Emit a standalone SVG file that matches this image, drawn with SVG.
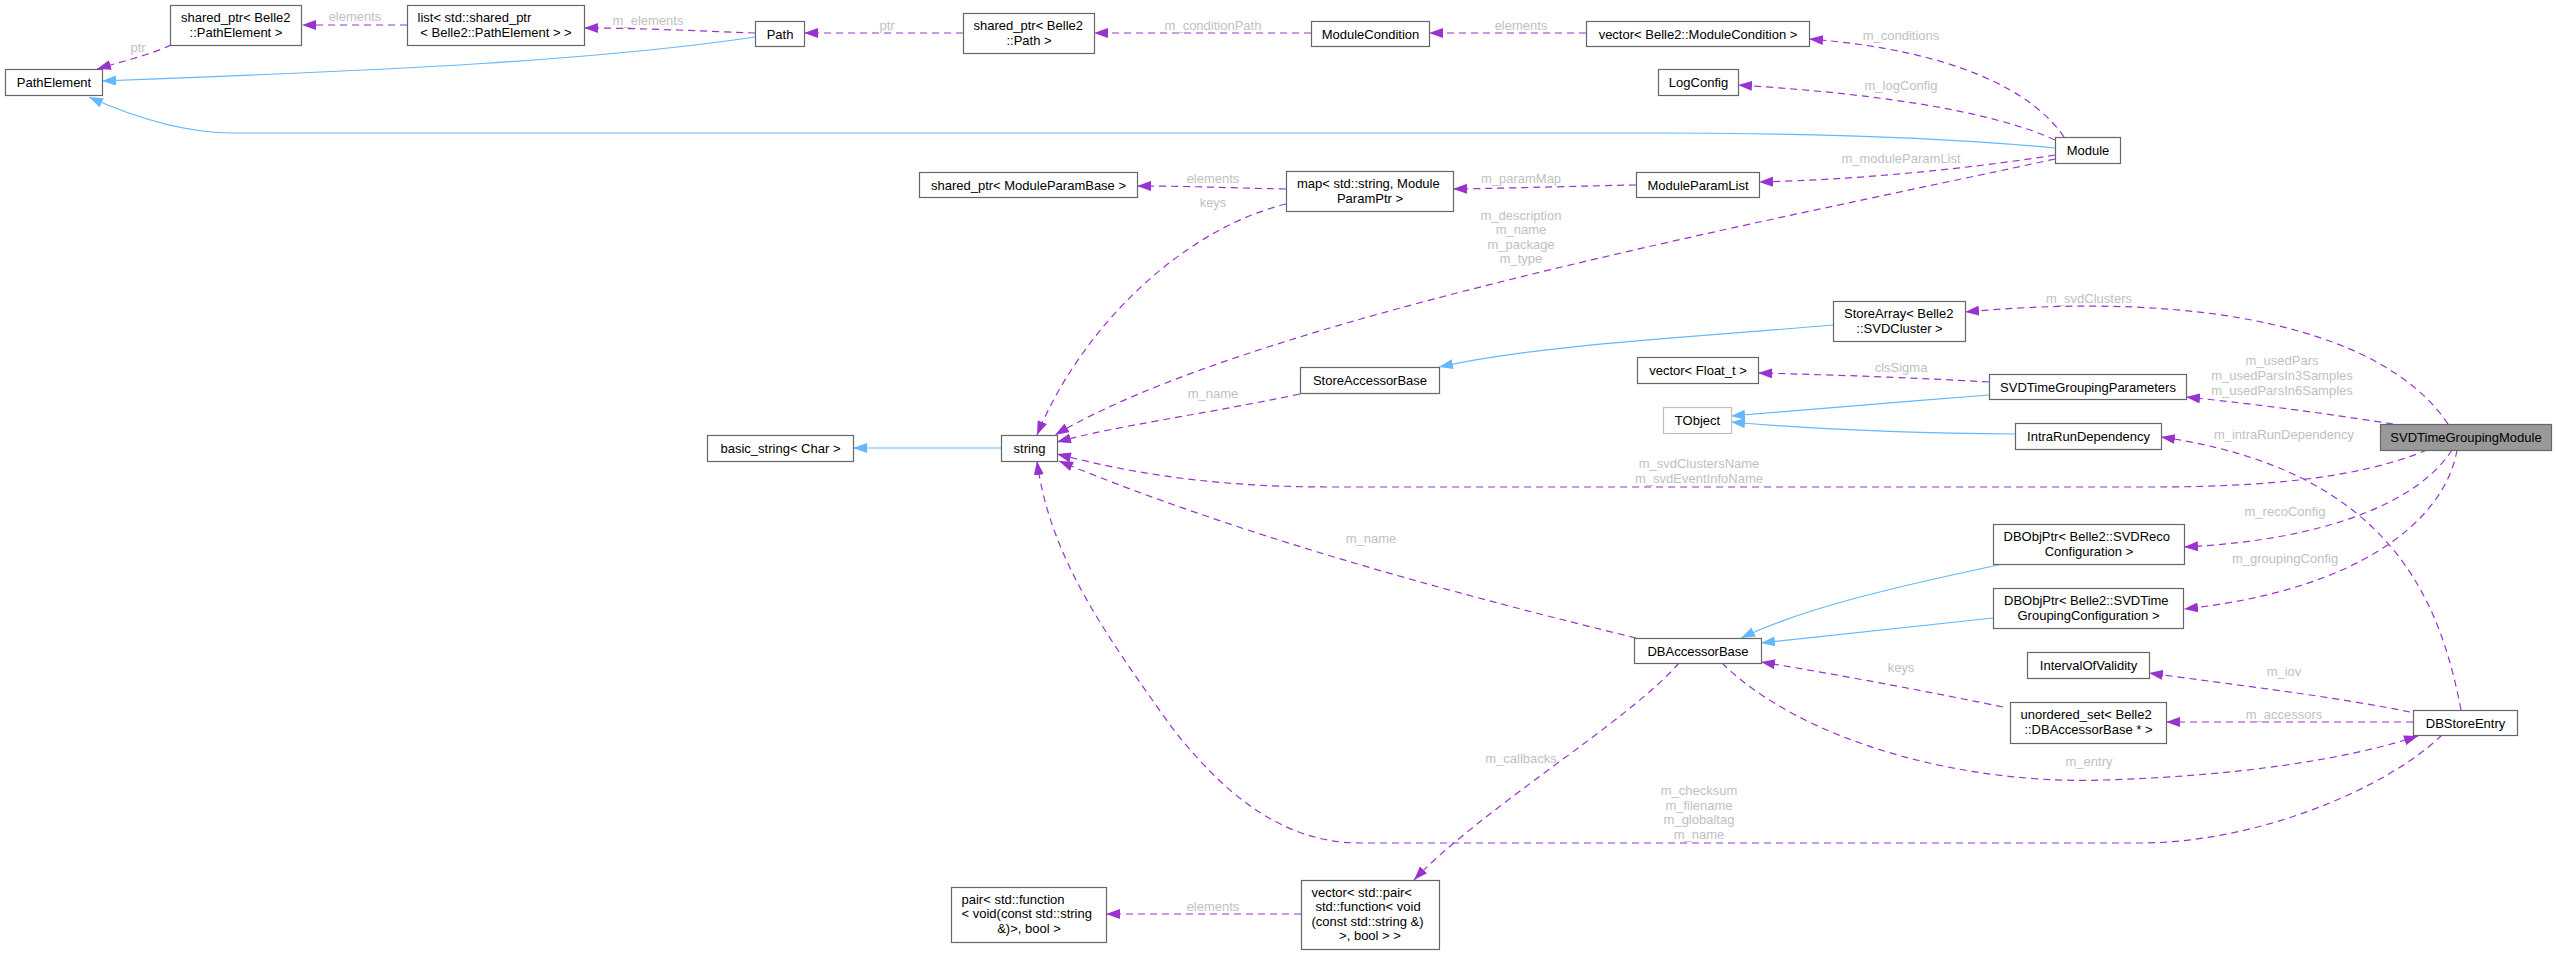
<svg xmlns="http://www.w3.org/2000/svg" width="2556" height="955" viewBox="0 0 2556 955">
<style>
.n rect{fill:#fff;stroke:#666;stroke-width:1.2}
.n text{font-family:"Liberation Sans",Arial,sans-serif;font-size:13px;fill:#000}
.c{text-anchor:middle}
.u{fill:none;stroke:#9a32cd;stroke-width:1.2;stroke-dasharray:7,5;marker-end:url(#ap)}
.i{fill:none;stroke:#63b8ff;stroke-width:1.2;marker-end:url(#ab)}
.l{font-family:"Liberation Sans",Arial,sans-serif;font-size:13px;fill:#bfbfbf;text-anchor:middle}
</style>
<defs>
<marker id="ap" markerUnits="userSpaceOnUse" markerWidth="14" markerHeight="10" viewBox="0 0 14 10" refX="14" refY="5" orient="auto"><path d="M0,0 L14,5 L0,10 z" fill="#9a32cd"/></marker>
<marker id="ab" markerUnits="userSpaceOnUse" markerWidth="14" markerHeight="10" viewBox="0 0 14 10" refX="14" refY="5" orient="auto"><path d="M0,0 L14,5 L0,10 z" fill="#63b8ff"/></marker>
</defs>
<rect width="2556" height="955" fill="#fff"/>
<g id="connectors">
<path class="u" d="M171,45 C150,55 120,62 97,69"/>
<path class="u" d="M407,25 L302,25"/>
<path class="u" d="M755,33 C700,31 640,28 584,28"/>
<path class="i" d="M755,37 C600,60 400,70 102,81"/>
<path class="u" d="M963,33 L804,33"/>
<path class="u" d="M1311,33 L1094,33"/>
<path class="u" d="M1586,33 L1429,33"/>
<path class="u" d="M2064,137 C2032,90 1952,50 1809,39"/>
<path class="u" d="M2055,140 C2000,115 1900,95 1738,85"/>
<path class="i" d="M2055,148 C1950,138 1800,133 1650,133 L233,133 C190,133 140,120 89,97"/>
<path class="u" d="M1636,185 C1580,186 1520,188 1453,189"/>
<path class="u" d="M2055,155 C1960,170 1850,180 1759,182"/>
<path class="u" d="M1286,189 C1230,188 1190,186 1137,186"/>
<path class="u" d="M1286,204 C1180,230 1080,330 1037,435"/>
<path class="u" d="M2055,159 C1750,225 1250,320 1055,435"/>
<path class="u" d="M1300,394 C1200,415 1120,425 1057,442"/>
<path class="i" d="M1833,325 C1680,338 1540,345 1439,367"/>
<path class="u" d="M2448,424 C2385,330 2205,290 1965,312"/>
<path class="u" d="M1989,382 C1920,378 1840,375 1758,373"/>
<path class="i" d="M1989,395 C1900,402 1800,410 1731,416"/>
<path class="i" d="M2015,434 C1900,433 1800,428 1731,422"/>
<path class="u" d="M2393,424 C2335,415 2265,405 2186,397"/>
<path class="u" d="M2461,710 C2440,600 2390,470 2161,437"/>
<path class="u" d="M2427,450 C2355,480 2255,487 2150,487 L1330,487 C1200,487 1120,470 1057,454"/>
<path class="u" d="M2452,450 C2420,500 2330,540 2184,547"/>
<path class="u" d="M2457,450 C2445,520 2360,590 2184,609"/>
<path class="i" d="M2003,564 C1880,590 1800,610 1741,638"/>
<path class="i" d="M1993,618 C1900,628 1820,636 1761,643"/>
<path class="u" d="M1636,638 C1480,600 1250,540 1059,461"/>
<path class="u" d="M1679,663 C1630,720 1480,810 1414,880"/>
<path class="u" d="M1301,914 L1106,914"/>
<path class="u" d="M2003,707 C1920,690 1840,675 1761,662"/>
<path class="u" d="M1722,663 C1800,740 1960,785 2104,780 C2235,776 2345,760 2418,736"/>
<path class="u" d="M2410,712 C2325,695 2235,685 2149,673"/>
<path class="u" d="M2413,722 L2166,722"/>
<path class="u" d="M2442,735 C2385,790 2255,843 2140,843 L1360,843 C1280,843 1220,790 1170,725 C1110,640 1050,560 1037,461"/>
<path class="i" d="M1001,448 L853,448"/>
<text class="l" x="138" y="51.5">ptr</text>
<text class="l" x="355" y="21">elements</text>
<text class="l" x="648" y="25">m_elements</text>
<text class="l" x="887" y="29.5">ptr</text>
<text class="l" x="1213" y="29.5">m_conditionPath</text>
<text class="l" x="1521" y="29.5">elements</text>
<text class="l" x="1901" y="39.5">m_conditions</text>
<text class="l" x="1901" y="89.5">m_logConfig</text>
<text class="l" x="1521" y="182.5">m_paramMap</text>
<text class="l" x="1901" y="162.5">m_moduleParamList</text>
<text class="l" x="1213" y="182.5">elements</text>
<text class="l" x="1213" y="206.5">keys</text>
<text class="l" x="1521" y="219.5">m_description</text>
<text class="l" x="1521" y="234">m_name</text>
<text class="l" x="1521" y="248.5">m_package</text>
<text class="l" x="1521" y="263">m_type</text>
<text class="l" x="1213" y="397.5">m_name</text>
<text class="l" x="2089" y="302.5">m_svdClusters</text>
<text class="l" x="1901" y="371.5">clsSigma</text>
<text class="l" x="2282" y="365">m_usedPars</text>
<text class="l" x="2282" y="380">m_usedParsIn3Samples</text>
<text class="l" x="2282" y="395">m_usedParsIn6Samples</text>
<text class="l" x="2284" y="438.5">m_intraRunDependency</text>
<text class="l" x="1699" y="467.5">m_svdClustersName</text>
<text class="l" x="1699" y="482.5">m_svdEventInfoName</text>
<text class="l" x="2285" y="516">m_recoConfig</text>
<text class="l" x="2285" y="562.5">m_groupingConfig</text>
<text class="l" x="1371" y="542.5">m_name</text>
<text class="l" x="1521" y="762.5">m_callbacks</text>
<text class="l" x="1213" y="910.5">elements</text>
<text class="l" x="1901" y="671.5">keys</text>
<text class="l" x="2089" y="765.5">m_entry</text>
<text class="l" x="2284" y="676">m_iov</text>
<text class="l" x="2284" y="718.5">m_accessors</text>
<text class="l" x="1699" y="794.5">m_checksum</text>
<text class="l" x="1699" y="809.5">m_filename</text>
<text class="l" x="1699" y="824">m_globaltag</text>
<text class="l" x="1699" y="839">m_name</text>
</g>
<g id="PathElement" class="n"><rect x="5.5" y="69.5" width="97" height="26"/><text class="c" x="54" y="87">PathElement</text></g>
<g id="shared_ptr_PathElement" class="n"><rect x="170.5" y="5.5" width="131" height="40"/><text x="181" y="21.5">shared_ptr&lt; Belle2</text><text class="c" x="236" y="36.5">::PathElement &gt;</text></g>
<g id="list_shared_ptr" class="n"><rect x="407.5" y="5.5" width="177" height="40"/><text x="417.5" y="21.5">list&lt; std::shared_ptr</text><text class="c" x="496" y="36.5">&lt; Belle2::PathElement &gt; &gt;</text></g>
<g id="Path" class="n"><rect x="755.5" y="21.5" width="49" height="25"/><text class="c" x="780" y="38.5">Path</text></g>
<g id="shared_ptr_Path" class="n"><rect x="963.5" y="13.5" width="131" height="40"/><text x="973.5" y="29.5">shared_ptr&lt; Belle2</text><text class="c" x="1029" y="44.5">::Path &gt;</text></g>
<g id="ModuleCondition" class="n"><rect x="1311.5" y="21.5" width="118" height="25"/><text class="c" x="1370.5" y="38.5">ModuleCondition</text></g>
<g id="vector_ModuleCondition" class="n"><rect x="1586.5" y="21.5" width="223" height="25"/><text class="c" x="1698" y="38.5">vector&lt; Belle2::ModuleCondition &gt;</text></g>
<g id="LogConfig" class="n"><rect x="1658.5" y="69.5" width="80" height="26"/><text class="c" x="1698.5" y="87">LogConfig</text></g>
<g id="shared_ptr_ModuleParamBase" class="n"><rect x="919.5" y="172.5" width="218" height="25"/><text class="c" x="1028.5" y="189.5">shared_ptr&lt; ModuleParamBase &gt;</text></g>
<g id="map_ModuleParamPtr" class="n"><rect x="1286.5" y="171.5" width="167" height="40"/><text x="1297" y="187.5">map&lt; std::string, Module</text><text class="c" x="1370" y="202.5">ParamPtr &gt;</text></g>
<g id="ModuleParamList" class="n"><rect x="1636.5" y="172.5" width="123" height="25"/><text class="c" x="1698" y="189.5">ModuleParamList</text></g>
<g id="Module" class="n"><rect x="2055.5" y="137.5" width="65" height="26"/><text class="c" x="2088" y="155">Module</text></g>
<g id="basic_string" class="n"><rect x="707.5" y="435.5" width="146" height="26"/><text class="c" x="780.5" y="453">basic_string&lt; Char &gt;</text></g>
<g id="string" class="n"><rect x="1001.5" y="435.5" width="56" height="26"/><text class="c" x="1029.5" y="453">string</text></g>
<g id="StoreAccessorBase" class="n"><rect x="1300.5" y="367.5" width="139" height="26"/><text class="c" x="1370" y="385">StoreAccessorBase</text></g>
<g id="StoreArray_SVDCluster" class="n"><rect x="1833.5" y="301.5" width="132" height="40"/><text x="1844" y="317.5">StoreArray&lt; Belle2</text><text class="c" x="1899.5" y="332.5">::SVDCluster &gt;</text></g>
<g id="vector_Float_t" class="n"><rect x="1637.5" y="357.5" width="121" height="26"/><text class="c" x="1698" y="375">vector&lt; Float_t &gt;</text></g>
<g id="TObject" class="n"><rect x="1663.5" y="407.5" width="68" height="26" style="stroke:#bfbfbf"/><text class="c" x="1697.5" y="425">TObject</text></g>
<g id="SVDTimeGroupingParameters" class="n"><rect x="1989.5" y="374.5" width="197" height="25"/><text class="c" x="2088" y="391.5">SVDTimeGroupingParameters</text></g>
<g id="IntraRunDependency" class="n"><rect x="2015.5" y="423.5" width="146" height="26"/><text class="c" x="2088.5" y="441">IntraRunDependency</text></g>
<g id="SVDTimeGroupingModule" class="n"><rect x="2380.5" y="424.5" width="171" height="26" style="fill:#999"/><text class="c" x="2466" y="442">SVDTimeGroupingModule</text></g>
<g id="DBObjPtr_SVDRecoConfiguration" class="n"><rect x="1993.5" y="524.5" width="191" height="40"/><text x="2003.5" y="540.5">DBObjPtr&lt; Belle2::SVDReco</text><text class="c" x="2089" y="555.5">Configuration &gt;</text></g>
<g id="DBObjPtr_SVDTimeGroupingConfiguration" class="n"><rect x="1993.5" y="588.5" width="190" height="40"/><text x="2004" y="604.5">DBObjPtr&lt; Belle2::SVDTime</text><text class="c" x="2088.5" y="619.5">GroupingConfiguration &gt;</text></g>
<g id="DBAccessorBase" class="n"><rect x="1634.5" y="638.5" width="127" height="25"/><text class="c" x="1698" y="655.5">DBAccessorBase</text></g>
<g id="IntervalOfValidity" class="n"><rect x="2027.5" y="652.5" width="122" height="26"/><text class="c" x="2088.5" y="670">IntervalOfValidity</text></g>
<g id="unordered_set_DBAccessorBase" class="n"><rect x="2010.5" y="702.5" width="156" height="41"/><text x="2020.5" y="718.5">unordered_set&lt; Belle2</text><text class="c" x="2088.5" y="733.5">::DBAccessorBase * &gt;</text></g>
<g id="DBStoreEntry" class="n"><rect x="2413.5" y="710.5" width="104" height="25"/><text class="c" x="2465.5" y="727.5">DBStoreEntry</text></g>
<g id="pair_function_bool" class="n"><rect x="951.5" y="887.5" width="155" height="55"/><text x="961.5" y="903.5">pair&lt; std::function</text><text x="961.5" y="918">&lt; void(const std::string</text><text class="c" x="1029" y="932.5">&amp;)&gt;, bool &gt;</text></g>
<g id="vector_pair_function_bool" class="n"><rect x="1301.5" y="880.5" width="138" height="69"/><text x="1311.5" y="896.5">vector&lt; std::pair&lt;</text><text x="1315.5" y="911">std::function&lt; void</text><text x="1311.5" y="925.5">(const std::string &amp;)</text><text class="c" x="1370" y="940">&gt;, bool &gt; &gt;</text></g>
</svg>
